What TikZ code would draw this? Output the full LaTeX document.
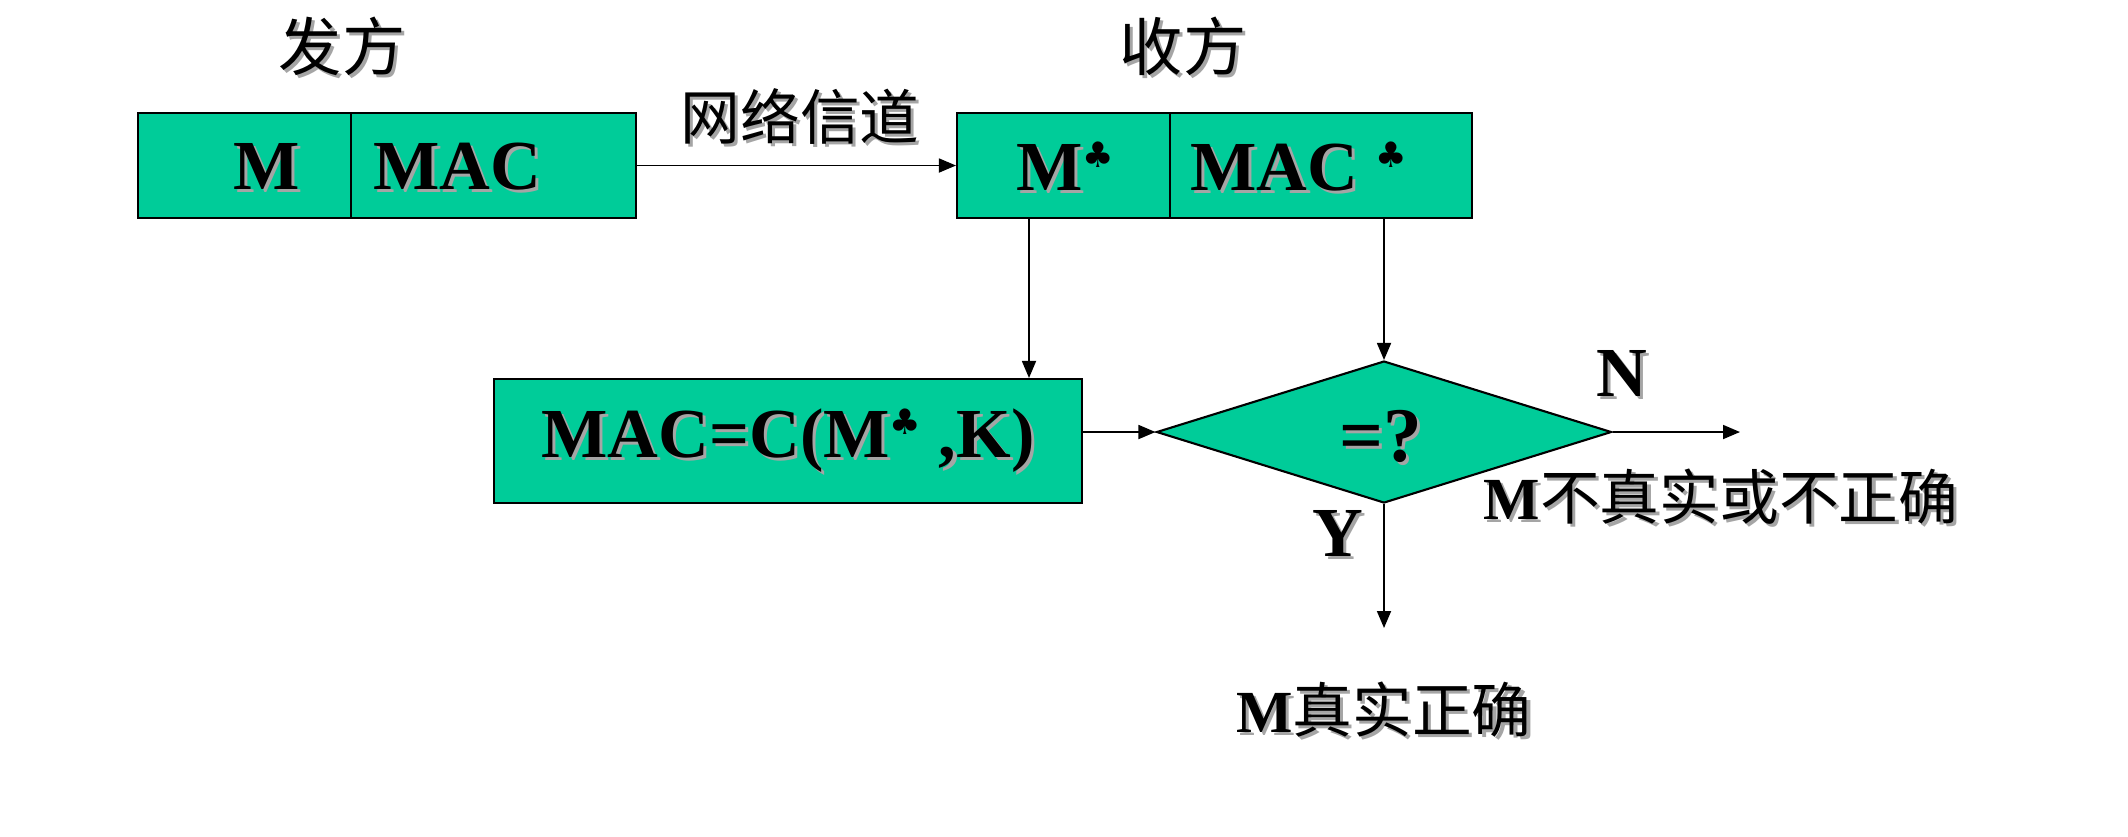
\documentclass[tikz,border=0pt]{standalone}
\usepackage{fontspec}
\setmainfont{Liberation Serif}
\newfontfamily\cjk{Noto Sans CJK SC}
\newfontfamily\symf{DejaVu Sans}
\usetikzlibrary{shapes.geometric,arrows.meta}
\definecolor{boxgreen}{RGB}{0,204,153}
\definecolor{shadowgray}{RGB}{165,165,165}
% text with a soft grey drop shadow
\newcommand\shadowed[1]{\makebox[0pt][l]{\hspace{0.9pt}\raisebox{-0.9pt}{\color{shadowgray}#1}}#1}
% small raised club mark
\newcommand\clubmark{\raisebox{6.5pt}{\symf\fontsize{10}{10}\selectfont ♣}}
\tikzset{
  cell/.style={draw=black, line width=0.6pt, fill=boxgreen, minimum height=1.05cm, inner sep=0pt},
  boxtext/.style={font=\fontsize{20}{24}\selectfont\bfseries, inner sep=0pt},
  cjktext/.style={font=\fontsize{18}{22}\selectfont\cjk, inner sep=0pt},
  labeltext/.style={font=\fontsize{17}{21}\selectfont, inner sep=0pt},
  arr/.style={line width=0.5pt, -{Triangle[length=0.17cm, width=0.14cm]}},
}
\begin{document}
\begin{tikzpicture}
\useasboundingbox (0,0) rectangle (21.28,-8.36);
\fill[white] (0,0) rectangle (21.28,-8.36);

% sender side
\node[cjktext] (sender) at (3.42,-0.48) {\shadowed{发方}};
\node[cell, minimum width=2.13cm] (b1l) at (2.445,-1.655) {};
\node[cell, minimum width=2.85cm] (b1r) at (4.935,-1.655) {};
\node[boxtext] (t1l) at (2.67,-1.68) {\shadowed{M}};
\node[boxtext] (t1r) at (4.57,-1.68) {\shadowed{MAC}};

% receiver side
\node[cjktext] (receiver) at (11.83,-0.48) {\shadowed{收方}};
\node[cell, minimum width=2.13cm] (b2l) at (10.635,-1.655) {};
\node[cell, minimum width=3.02cm] (b2r) at (13.21,-1.655) {};
\node[boxtext] (t2l) at (10.65,-1.68) {\shadowed{M}\clubmark};
\node[boxtext] (t2r) at (12.99,-1.68) {\shadowed{MAC}\ \clubmark};

% channel
\draw[arr] (b1r.east) -- (b2l.west);
\node[cjktext, font=\fontsize{17}{20}\selectfont\cjk] (chan) at (8.00,-1.18) {\shadowed{网络信道}};

% recomputation box and comparison
\node[cell, minimum width=5.88cm, minimum height=1.24cm] (b3) at (7.88,-4.41) {};
\node[boxtext] (t3) at (7.88,-4.42) {\shadowed{MAC=C(M}\clubmark\ \shadowed{,K)}};
\node[diamond, draw=black, line width=0.6pt, fill=boxgreen, inner sep=0pt,
      minimum width=4.55cm, minimum height=1.42cm] (cmp) at (13.84,-4.32) {};
\node[boxtext, font=\fontsize{22}{26}\selectfont\bfseries] (eq) at (13.81,-4.38) {\shadowed{=?}};

\coordinate (c1) at (10.29,0);
\draw[arr] (b2l.south -| c1) -- (b3.north -| c1);
\draw[arr] (b2r.south -| cmp.north) -- (cmp.north);
\draw[arr] (b3.east |- cmp.west) -- (cmp.west);

% outcomes
\coordinate (nend) at (17.40,-4.32);
\coordinate (yend) at (13.84,-6.28);
\draw[arr] (cmp.east) -- (nend);
\draw[arr] (cmp.south) -- (yend);
\node[boxtext] (nlab) at (16.22,-3.75) {\shadowed{N}};
\node[boxtext] (ylab) at (13.38,-5.35) {\shadowed{Y}};
\node[labeltext] (bad) at (17.21,-4.98) {\shadowed{\textbf{M}{\cjk 不真实或不正确}}};
\node[labeltext] (good) at (13.84,-7.11) {\shadowed{\textbf{M}{\cjk 真实正确}}};
\end{tikzpicture}
\end{document}
